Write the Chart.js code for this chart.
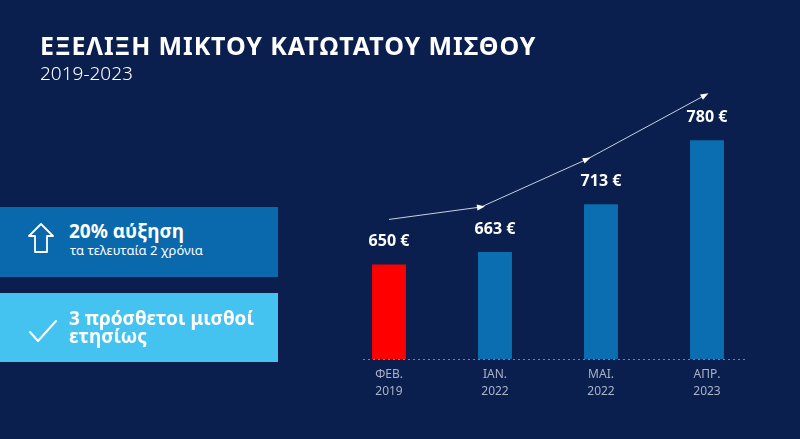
<!DOCTYPE html>
<html><head><meta charset="utf-8">
<script src="https://cdn.jsdelivr.net/npm/chart.js@4"></script>
<style>
html,body{margin:0;padding:0;background:#0b1f4e;width:800px;height:439px;overflow:hidden;font-family:"Noto Sans",sans-serif;}
#wrap{position:absolute;left:0;top:0;width:800px;height:439px;}
.t{position:absolute;color:#fff;white-space:nowrap;}
.box{position:absolute;left:0;width:278px;}
</style></head><body>
<div id="wrap"><canvas id="c"></canvas></div>
<div class="t" style="left:40px;top:28px;font-size:25px;font-weight:700;letter-spacing:0.9px;font-family:'Noto Sans';">ΕΞΕΛΙΞΗ ΜΙΚΤΟΥ ΚΑΤΩΤΑΤΟΥ ΜΙΣΘΟΥ</div>
<div class="t" style="left:40px;top:60px;font-size:19px;font-weight:300;">2019-2023</div>
<div class="box" style="top:207px;height:70px;background:#0a68ad;"></div>
<div class="box" style="top:293px;height:69px;background:#45c3f0;"></div>
<svg style="position:absolute;left:27px;top:222px" width="28" height="32" viewBox="0 0 28 32"><path d="M14 2 L26 14 L20 14 L20 30 L8 30 L8 14 L2 14 Z" fill="none" stroke="#fff" stroke-width="1.8" stroke-linejoin="round"/></svg>
<svg style="position:absolute;left:28px;top:318px" width="30" height="26" viewBox="0 0 30 26"><path d="M2 14 L10 23 L28 3" fill="none" stroke="#fff" stroke-width="2" stroke-linecap="round" stroke-linejoin="round"/></svg>
<div class="t" style="left:69px;top:220px;font-size:19px;font-weight:700;line-height:22px;">20% αύξηση</div>
<div class="t" style="left:70px;top:242px;font-size:13px;line-height:16px;">τα τελευταία 2 χρόνια</div>
<div class="t" style="left:69px;top:309px;font-size:19px;font-weight:700;line-height:18px;">3 πρόσθετοι μισθοί<br>ετησίως</div>
<script>
const categories=[["ΦΕΒ.","2019"],["ΙΑΝ.","2022"],["ΜΑΙ.","2022"],["ΑΠΡ.","2023"]];
const values=[650,663,713,780];
const barColors=["#ff0000","#0a6eb0","#0a6eb0","#0a6eb0"];
const deco={id:"deco",afterDatasetsDraw(ch){
 const ctx=ch.ctx,x=ch.scales.x,a=ch.chartArea,meta=ch.getDatasetMeta(0);
 ctx.save();
 ctx.strokeStyle="#6f84a8";ctx.lineWidth=1;ctx.setLineDash([2,3]);
 ctx.beginPath();ctx.moveTo(x.getPixelForValue(0)-26,a.bottom+0.5);ctx.lineTo(x.getPixelForValue(3)+38,a.bottom+0.5);ctx.stroke();
 ctx.setLineDash([]);
 ctx.textAlign="center";ctx.textBaseline="middle";
 ctx.fillStyle="#ffffff";ctx.font="bold 16px 'Noto Sans'";
 const pts=[];
 meta.data.forEach((b,i)=>{ctx.fillText(values[i]+" €",b.x,b.y-23);pts.push([b.x-(i==3?2:i?14:0),b.y-45]);});
 ctx.fillStyle="#a9b3c6";ctx.font="12px 'Noto Sans'";
 categories.forEach((c,i)=>{const px=x.getPixelForValue(i);ctx.fillText(c[0],px,a.bottom+16);ctx.fillText(c[1],px,a.bottom+33);});
 ctx.strokeStyle="#c8d2e4";ctx.fillStyle="#ffffff";ctx.lineWidth=1;
 ctx.beginPath();ctx.moveTo(pts[0][0],pts[0][1]);for(let i=1;i<pts.length;i++)ctx.lineTo(pts[i][0],pts[i][1]);ctx.stroke();
 for(let i=1;i<pts.length;i++){const [x1,y1]=pts[i-1],[x2,y2]=pts[i];const an=Math.atan2(y2-y1,x2-x1);
  ctx.beginPath();ctx.moveTo(x2+4*Math.cos(an),y2+4*Math.sin(an));ctx.lineTo(x2-4*Math.cos(an)+3*Math.sin(an),y2-4*Math.sin(an)-3*Math.cos(an));ctx.lineTo(x2-4*Math.cos(an)-3*Math.sin(an),y2-4*Math.sin(an)+3*Math.cos(an));ctx.closePath();ctx.fill();}
 ctx.restore();}};
new Chart(document.getElementById("c"),{type:"bar",
 data:{labels:categories.map(c=>c.join(" ")),datasets:[{data:values,backgroundColor:barColors,barPercentage:0.32,categoryPercentage:1}]},
 options:{responsive:true,maintainAspectRatio:false,animation:false,
  layout:{padding:{left:336,right:40,top:60,bottom:80}},
  plugins:{legend:{display:false},tooltip:{enabled:false}},
  scales:{x:{display:false},y:{display:false,min:551,max:864}}},
 plugins:[deco]});
</script></body></html>
